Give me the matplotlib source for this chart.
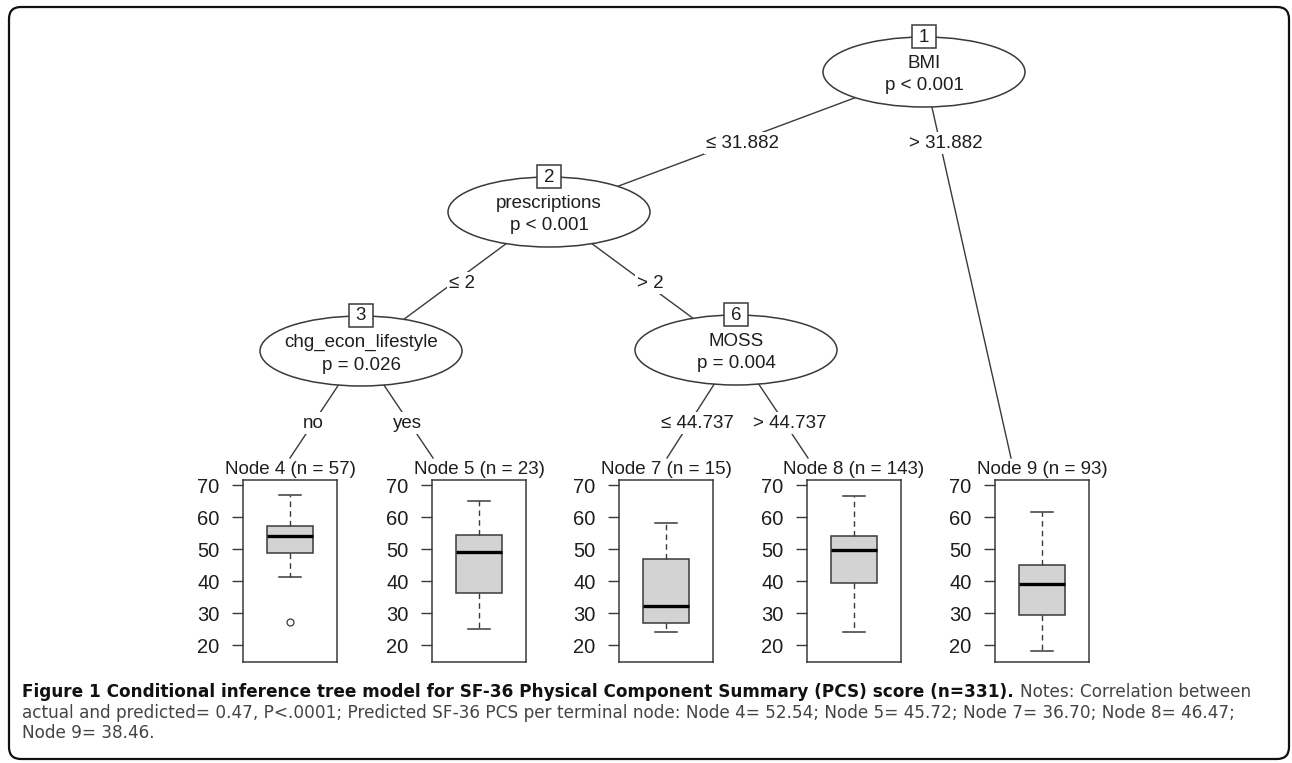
"""Conditional inference tree for SF-36 PCS score (ctree style plot)."""
import matplotlib
matplotlib.use("Agg")
import matplotlib.pyplot as plt
from matplotlib.patches import Ellipse, Rectangle, FancyBboxPatch

plt.rcParams['font.family'] = ['Liberation Sans', 'DejaVu Sans']

W, H = 1292, 763
line_col = '#3a3a3a'
text_col = '#1e1e1e'

# inner nodes
inner_ids = [1, 2, 3, 6]
inner_vars = ["BMI", "prescriptions", "chg_econ_lifestyle", "MOSS"]
inner_p = ["p < 0.001", "p < 0.001", "p = 0.026", "p = 0.004"]

# terminal nodes
term_ids = [4, 5, 7, 8, 9]
term_n = [57, 23, 15, 143, 93]
whis_lo = [41.3, 25.0, 24.0, 24.0, 18.1]
q1 = [48.9, 36.2, 27.0, 39.3, 29.5]
med = [54.0, 49.0, 32.3, 49.8, 39.0]
q3 = [57.2, 54.4, 46.9, 54.1, 44.9]
whis_hi = [66.9, 65.1, 58.2, 66.5, 61.5]
fliers = [[27.1], [], [], [], []]
yticks = [20, 30, 40, 50, 60, 70]

# edges: (parent, child, label)
edges = [(1, 2, "\u2264 31.882"), (1, 9, "> 31.882"),
         (2, 3, "\u2264 2"), (2, 6, "> 2"),
         (3, 4, "no"), (3, 5, "yes"),
         (6, 7, "\u2264 44.737"), (6, 8, "> 44.737")]

# layout (pixels)
node_xy = {1: (924, 72), 2: (549, 212), 3: (361, 351), 6: (736, 350),
           4: (290, 458), 5: (433, 458), 7: (667, 458), 8: (808, 458),
           9: (1011, 458)}
label_xy = {2: (743, 143), 9: (946, 143), 3: (462, 283), 6: (650, 283),
            4: (313, 423), 5: (407, 423), 7: (697, 423), 8: (790, 423)}
panel_left = [243, 432, 619, 807, 995]
panel_w, panel_top, panel_bot = 94, 480, 662

fig = plt.figure(figsize=(W / 100, H / 100), dpi=100)
ov = fig.add_axes([0, 0, 1, 1])
ov.set_xlim(0, W)
ov.set_ylim(H, 0)
ov.axis('off')

ov.add_patch(FancyBboxPatch((9, 7), 1280, 752,
                            boxstyle="round,pad=0,rounding_size=12",
                            fc='none', ec='#111111', lw=1.6))

for par, ch, lab in edges:
    (x0, y0), (x1, y1) = node_xy[par], node_xy[ch]
    ov.plot([x0, x1], [y0, y1], color=line_col, lw=1.0, zorder=1)
    lx, ly = label_xy[ch]
    ov.text(lx, ly, lab, ha='center', va='center', fontsize=13.5,
            color=text_col, zorder=2,
            bbox=dict(fc='white', ec='none', pad=1.5))

for nid, var, p in zip(inner_ids, inner_vars, inner_p):
    cx, cy = node_xy[nid]
    ov.add_patch(Ellipse((cx, cy), 202, 70, fc='white', ec=line_col,
                         lw=1.1, zorder=3))
    ov.add_patch(Rectangle((cx - 12, cy - 47), 24, 23, fc='white',
                           ec=line_col, lw=1.1, zorder=4))
    ov.text(cx, cy - 35, str(nid), ha='center', va='center', fontsize=13.5,
            color=text_col, zorder=5)
    ov.text(cx, cy - 9, var, ha='center', va='center', fontsize=13.5,
            color=text_col, zorder=5)
    ov.text(cx, cy + 14, p, ha='center', va='center', fontsize=13.5,
            color=text_col, zorder=5)

for i, nid in enumerate(term_ids):
    x0 = panel_left[i]
    ov.text(x0 + panel_w / 2, 469, f"Node {nid} (n = {term_n[i]})",
            ha='center', va='center', fontsize=13.5, color=text_col)
    ax = fig.add_axes([x0 / W, 1 - panel_bot / H, panel_w / W,
                       (panel_bot - panel_top) / H])
    stats = [dict(med=med[i], q1=q1[i], q3=q3[i], whislo=whis_lo[i],
                  whishi=whis_hi[i], fliers=fliers[i])]
    ax.bxp(stats, positions=[1], widths=0.48, capwidths=0.24,
           patch_artist=True,
           boxprops=dict(facecolor='#d3d3d3', edgecolor=line_col, lw=1.1),
           medianprops=dict(color='black', lw=2.4),
           whiskerprops=dict(color=line_col, lw=1.0, linestyle=(0, (4, 3))),
           capprops=dict(color=line_col, lw=1.1),
           flierprops=dict(marker='o', mfc='none', mec=line_col, ms=5,
                           mew=0.9))
    ax.set_xlim(0.5, 1.5)
    ax.set_ylim(14.7, 71.6)
    ax.set_xticks([])
    ax.set_yticks(yticks)
    ax.tick_params(axis='y', length=8, pad=9, labelsize=14.5,
                   color=line_col, labelcolor=text_col, width=1.0)
    for sp in ax.spines.values():
        sp.set_color(line_col)
        sp.set_linewidth(1.1)

# caption
cap_font = ['DejaVu Sans']
cap_size = 12.2
bold_txt = ("Figure 1 Conditional inference tree model for SF-36 Physical "
            "Component Summary (PCS) score (n=331).")
t1 = fig.text(22 / W, 1 - 692 / H, bold_txt, fontsize=cap_size,
              fontweight='bold', family=cap_font, color='#111111',
              va='center', ha='left')
fig.canvas.draw()
bb = t1.get_window_extent(renderer=fig.canvas.get_renderer())
fig.text((bb.x1 + 6) / W, 1 - 692 / H, "Notes: Correlation between",
         fontsize=cap_size, family=cap_font, color='#444444', va='center',
         ha='left')
fig.text(22 / W, 1 - 713 / H,
         "actual and predicted= 0.47, P<.0001; Predicted SF-36 PCS per "
         "terminal node: Node 4= 52.54; Node 5= 45.72; Node 7= 36.70; "
         "Node 8= 46.47;", fontsize=cap_size, family=cap_font,
         color='#444444', va='center', ha='left')
fig.text(22 / W, 1 - 733 / H, "Node 9= 38.46.", fontsize=cap_size,
         family=cap_font, color='#444444', va='center', ha='left')

fig.savefig("out.png", dpi=100)
